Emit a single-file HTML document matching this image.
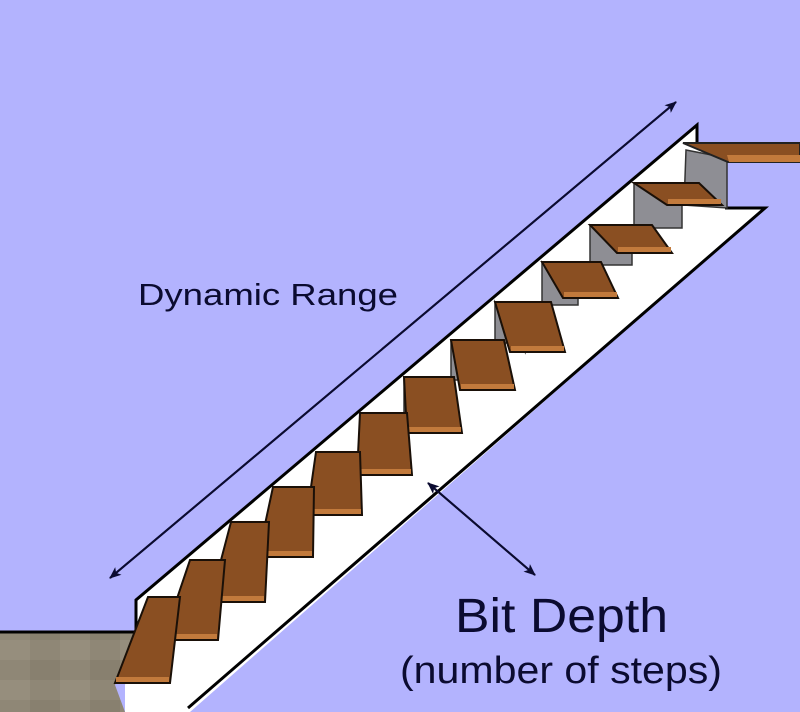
<!DOCTYPE html>
<html><head><meta charset="utf-8"><style>
html,body{margin:0;padding:0;background:#b3b3fe;}
svg{display:block}
</style></head><body>
<svg id="s" width="800" height="712" viewBox="0 0 800 712" xmlns="http://www.w3.org/2000/svg">
<defs>
<pattern id="stone" width="60" height="40" patternUnits="userSpaceOnUse">
<rect width="60" height="40" fill="#8f8776"/>
<rect x="0" y="0" width="30" height="20" fill="#968e7d"/>
<rect x="30" y="20" width="30" height="20" fill="#88806f"/>
</pattern>
<marker id="ah" markerWidth="12" markerHeight="10" refX="11" refY="5" orient="auto" markerUnits="userSpaceOnUse">
<path d="M0,0 L12,5 L0,10 L3,5 Z" fill="#0b0b30"/>
</marker>
</defs>
<rect width="800" height="712" fill="#b3b3fe"/>
<!-- floor -->
<polygon points="0,632 137,632 115,685 125,712 0,712" fill="url(#stone)"/>
<line x1="0" y1="632" x2="137" y2="632" stroke="#000" stroke-width="3"/>
<!-- white stringer -->
<polygon points="136,600 697,125 697,143 727,160 727,208 765,208 190,712 125,712 125,685 136,632" fill="#fff"/>
<polyline points="136,632 136,600 697,125 697,143" fill="none" stroke="#000" stroke-width="3"/>
<polyline points="725,208 765,208 188,708" fill="none" stroke="#000" stroke-width="3"/>
<!-- landing riser -->
<polygon points="686,150 727,158 727,208 684,205" fill="#8e8e94" stroke="#333" stroke-width="1.5"/>
<!-- landing -->
<polygon points="683,143 800,143 800,162 728,162" fill="#8a4f22" stroke="#222" stroke-width="2"/>
<polygon points="727,155 800,155 800,162 729,162" fill="#c27a3c"/>
<g id="steps"></g>
<!-- arrows -->
<line x1="676" y1="102" x2="110" y2="578" stroke="#0b0b30" stroke-width="2" marker-end="url(#ah)"/>
<line x1="110" y1="578" x2="676" y2="102" stroke="#0b0b30" stroke-width="2" marker-end="url(#ah)"/>
<line x1="535" y1="575" x2="428" y2="483" stroke="#0b0b30" stroke-width="2" marker-end="url(#ah)"/>
<line x1="428" y1="483" x2="535" y2="575" stroke="#0b0b30" stroke-width="2" marker-end="url(#ah)"/>
<text x="138" y="305" font-family="Liberation Sans, sans-serif" font-size="31" fill="#0b0b30" textLength="260" lengthAdjust="spacingAndGlyphs">Dynamic Range</text>
<text x="455" y="632" font-family="Liberation Sans, sans-serif" font-size="48" fill="#0b0b30" textLength="213" lengthAdjust="spacingAndGlyphs">Bit Depth</text>
<text x="400" y="683" font-family="Liberation Sans, sans-serif" font-size="38" fill="#0b0b30" textLength="322" lengthAdjust="spacingAndGlyphs">(number of steps)</text>
</svg>
<script>
var fr=[170,218,265,313,362,412,462,515,565,618,672,722];
var fy=[683,640,602,557,515,475,433,390,352,298,253,205];
var ty=[597,560,522,487,452,413,377,340,302,262,225,183];
var g=document.getElementById('steps'),h='';
for(var i=11;i>=0;i--){
 var fl=fr[i]-55, dx=-33+6*i, bl=fl-dx;
 if(i>=4){
  var nt=(i>0?ty[i-1]:fy[i]+20);
  h+='<polygon points="'+bl+','+ty[i]+' '+(fl+15)+','+fy[i]+' '+(fl+15)+','+(nt+3)+' '+bl+','+(nt+3)+'" fill="#8e8e94" stroke="#333" stroke-width="1.5"/>';
 }
}
for(var i=11;i>=0;i--){
 var fl=fr[i]-55, dx=-33+6*i, bl=fl-dx, w=32+3*i;
 h+='<polygon points="'+bl+','+ty[i]+' '+(bl+w)+','+ty[i]+' '+fr[i]+','+fy[i]+' '+fl+','+fy[i]+'" fill="#8a4f22" stroke="#1a1008" stroke-width="2"/>';
 h+='<polygon points="'+(fl+1)+','+(fy[i]-6)+' '+(fr[i]-1)+','+(fy[i]-6)+' '+(fr[i]-1)+','+(fy[i]-1)+' '+(fl+1)+','+(fy[i]-1)+'" fill="#c27a3c"/>';
}
g.innerHTML=h;
</script>
</body></html>
